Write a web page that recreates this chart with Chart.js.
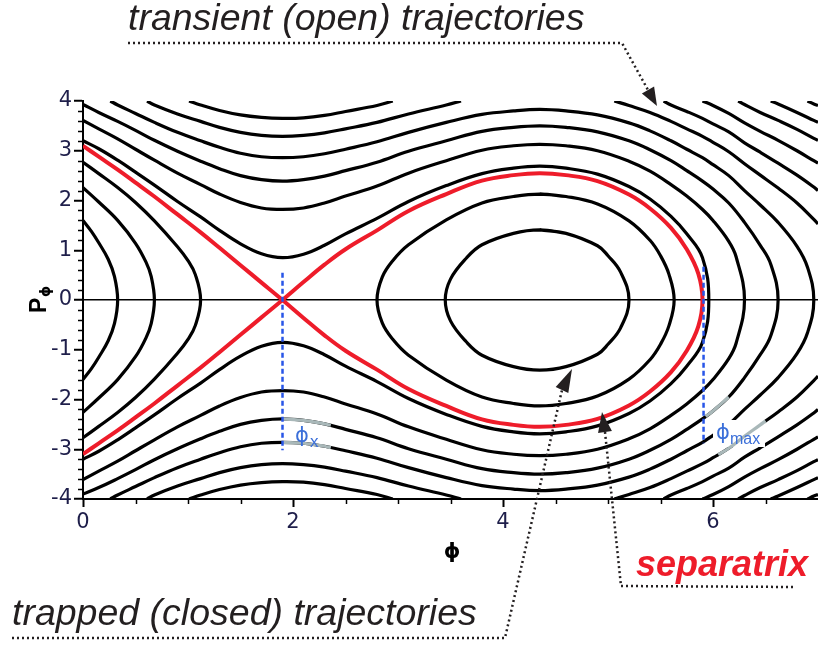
<!DOCTYPE html>
<html>
<head>
<meta charset="utf-8">
<title>Phase portrait</title>
<script src="https://cdn.jsdelivr.net/npm/chart.js@4.4.0/dist/chart.umd.min.js"></script>
<style>
  html, body { margin: 0; padding: 0; background: #fff; }
  canvas { display: block; }
</style>
</head>
<body>
<canvas id="phaseChart" width="818" height="646"></canvas>
<script>
// level curves of the phase plane, as [phi, P] pairs

const separatrix = [
  [0, 3.1], [0.15, 2.88], [0.33, 2.62], [0.5, 2.36], [0.68, 2.08], [0.9, 1.72], [1.12, 1.36], [1.3, 1.05], [1.5, 0.7], [1.7, 0.35], [1.9, 0],
  [2.1, -0.36], [2.3, -0.71], [2.5, -1.02], [2.8, -1.4], [3.1, -1.79], [3.46, -2.13], [3.8, -2.4], [4.1, -2.51], [4.35, -2.55], [4.6, -2.51], [4.9, -2.39], [5.2, -2.12], [5.4, -1.84], [5.6, -1.45], [5.75, -1.02], [5.86, -0.53], [5.9, 0],
  [5.86, 0.53], [5.75, 1.02], [5.6, 1.45], [5.4, 1.84], [5.2, 2.12], [4.9, 2.39], [4.6, 2.51], [4.35, 2.55], [4.1, 2.51], [3.8, 2.4], [3.46, 2.13], [3.1, 1.79], [2.8, 1.4], [2.5, 1.02], [2.3, 0.71], [2.1, 0.36], [1.9, 0],
  [1.7, -0.35], [1.5, -0.7], [1.3, -1.05], [1.12, -1.36], [0.9, -1.72], [0.68, -2.08], [0.5, -2.36], [0.33, -2.62], [0.15, -2.88], [0, -3.1]
];

// closed orbits inside the well
const trappedInner = [
  [4.35, 1.41], [4.6, 1.34], [4.9, 1.09], [5.0, 0.89], [5.12, 0.56], [5.2, 0], [5.12, -0.56], [5.0, -0.89], [4.9, -1.09], [4.6, -1.34], [4.35, -1.41],
  [4.1, -1.34], [3.8, -1.11], [3.65, -0.84], [3.5, -0.42], [3.45, 0], [3.5, 0.42], [3.65, 0.84], [3.8, 1.11], [4.1, 1.34], [4.35, 1.41], [4.6, 1.34]
];
const trappedOuter = [
  [4.35, 2.13], [4.6, 2.08], [4.9, 1.93], [5.2, 1.59], [5.4, 1.2], [5.5, 0.89], [5.58, 0.52], [5.63, 0], [5.58, -0.52], [5.5, -0.89], [5.4, -1.2], [5.2, -1.59], [4.9, -1.93], [4.6, -2.08], [4.35, -2.13],
  [4.1, -2.08], [3.8, -1.95], [3.46, -1.61], [3.1, -1.11], [2.95, -0.79], [2.85, -0.46], [2.8, 0], [2.85, 0.46], [2.95, 0.79], [3.1, 1.11], [3.46, 1.61], [3.8, 1.95], [4.1, 2.08], [4.35, 2.13], [4.6, 2.08]
];

// orbits turned back by the barrier at phi_x
const leftInner = [[0, 1.6], [0.08, 1.38], [0.15, 1.15], [0.24, 0.82], [0.3, 0.47], [0.33, 0], [0.3, -0.47], [0.24, -0.82], [0.15, -1.15], [0.08, -1.38], [0, -1.6]];
const leftMiddle = [[0, 2.26], [0.15, 1.97], [0.33, 1.6], [0.5, 1.14], [0.6, 0.76], [0.65, 0.47], [0.68, 0], [0.65, -0.47], [0.6, -0.76], [0.5, -1.14], [0.33, -1.6], [0.15, -1.97], [0, -2.26]];
const leftOuter = [[0, 2.77], [0.15, 2.54], [0.33, 2.26], [0.5, 1.96], [0.68, 1.59], [0.9, 1.07], [1.0, 0.79], [1.07, 0.51], [1.12, 0], [1.07, -0.51], [1.0, -0.79], [0.9, -1.07], [0.68, -1.59], [0.5, -1.96], [0.33, -2.26], [0.15, -2.54], [0, -2.77]];

// open orbits passing over the barrier
const openE1 = [
  [0, 3.2], [0.15, 3.04], [0.33, 2.81], [0.5, 2.57], [0.68, 2.31], [0.9, 1.98], [1.12, 1.67], [1.3, 1.4], [1.5, 1.13], [1.7, 0.93], [1.9, 0.85], [2.1, 0.92], [2.3, 1.1], [2.5, 1.33], [2.8, 1.64], [3.1, 1.98], [3.46, 2.3], [3.8, 2.54], [4.1, 2.65], [4.35, 2.69], [4.6, 2.65], [4.9, 2.53], [5.2, 2.28], [5.4, 2.03], [5.6, 1.68], [5.75, 1.33], [5.9, 0.85], [5.96, 0],
  [5.9, -0.85], [5.75, -1.33], [5.6, -1.68], [5.4, -2.03], [5.2, -2.28], [4.9, -2.53], [4.6, -2.65], [4.35, -2.69], [4.1, -2.65], [3.8, -2.54], [3.46, -2.3], [3.1, -1.98], [2.8, -1.64], [2.5, -1.33], [2.3, -1.1], [2.1, -0.92], [1.9, -0.85], [1.7, -0.93], [1.5, -1.13], [1.3, -1.4], [1.12, -1.67], [0.9, -1.98], [0.68, -2.31], [0.5, -2.57], [0.33, -2.81], [0.15, -3.04], [0, -3.2]
];
const openA2 = [
  [0, 3.61], [0.15, 3.44], [0.33, 3.24], [0.5, 3.03], [0.68, 2.81], [0.9, 2.55], [1.12, 2.32], [1.3, 2.13], [1.5, 1.96], [1.7, 1.85], [1.9, 1.82], [2.1, 1.85], [2.3, 1.95], [2.5, 2.09], [2.8, 2.29], [3.1, 2.55], [3.46, 2.8], [3.8, 3.01], [4.1, 3.1], [4.35, 3.13], [4.6, 3.1], [4.9, 3.0], [5.2, 2.79], [5.4, 2.59], [5.6, 2.32], [5.75, 2.09], [5.9, 1.82], [6.0, 1.6], [6.15, 1.18], [6.22, 0.87], [6.3, 0],
  [6.22, -0.87], [6.15, -1.18], [6.0, -1.6], [5.9, -1.82], [5.75, -2.09], [5.6, -2.32], [5.4, -2.59], [5.2, -2.79], [4.9, -3.0], [4.6, -3.1], [4.35, -3.13], [4.1, -3.1], [3.8, -3.01], [3.46, -2.8], [3.1, -2.55], [2.8, -2.29], [2.5, -2.09], [2.3, -1.95], [2.1, -1.85], [1.9, -1.82], [1.7, -1.85], [1.5, -1.96], [1.3, -2.13], [1.12, -2.32], [0.9, -2.55], [0.68, -2.81], [0.5, -3.03], [0.33, -3.24], [0.15, -3.44], [0, -3.61]
];
const openA1 = [
  [0, 3.93], [0.15, 3.77], [0.33, 3.59], [0.5, 3.41], [0.68, 3.21], [0.9, 2.99], [1.12, 2.79], [1.3, 2.64], [1.5, 2.5], [1.7, 2.42], [1.9, 2.39], [2.1, 2.42], [2.3, 2.49], [2.5, 2.6], [2.8, 2.77], [3.1, 2.99], [3.46, 3.2], [3.8, 3.39], [4.1, 3.47], [4.35, 3.5], [4.6, 3.47], [4.9, 3.38], [5.2, 3.2], [5.4, 3.02], [5.6, 2.8], [5.75, 2.6], [5.9, 2.39], [6.0, 2.23], [6.15, 1.95], [6.3, 1.56], [6.45, 1.1], [6.55, 0.72], [6.62, 0],
  [6.55, -0.72], [6.45, -1.1], [6.3, -1.56], [6.15, -1.95], [6.0, -2.23], [5.9, -2.39], [5.75, -2.6], [5.6, -2.8], [5.4, -3.02], [5.2, -3.2], [4.9, -3.38], [4.6, -3.47], [4.35, -3.5], [4.1, -3.47], [3.8, -3.39], [3.46, -3.2], [3.1, -2.99], [2.8, -2.77], [2.5, -2.6], [2.3, -2.49], [2.1, -2.42], [1.9, -2.39], [1.7, -2.42], [1.5, -2.5], [1.3, -2.64], [1.12, -2.79], [0.9, -2.99], [0.68, -3.21], [0.5, -3.41], [0.33, -3.59], [0.15, -3.77], [0, -3.9]
];
const openT3 = [
  [0.26, 4], [0.33, 3.92], [0.5, 3.75], [0.68, 3.57], [0.9, 3.37], [1.12, 3.2], [1.3, 3.07], [1.5, 2.95], [1.7, 2.88], [1.9, 2.86], [2.1, 2.88], [2.3, 2.94], [2.5, 3.03], [2.8, 3.18], [3.1, 3.37], [3.46, 3.57], [3.8, 3.73], [4.1, 3.8], [4.35, 3.83], [4.6, 3.8], [4.9, 3.72], [5.2, 3.56], [5.4, 3.4], [5.6, 3.2], [5.75, 3.03], [5.9, 2.86], [6.0, 2.72], [6.15, 2.5], [6.3, 2.2], [6.45, 1.91], [6.62, 1.56], [6.8, 1.08], [6.9, 0.66], [6.96, 0],
  [6.9, -0.66], [6.8, -1.08], [6.62, -1.56], [6.45, -1.91], [6.3, -2.2], [6.15, -2.5], [6.0, -2.72], [5.9, -2.86], [5.75, -3.03], [5.6, -3.2], [5.4, -3.4], [5.2, -3.56], [4.9, -3.72], [4.6, -3.8], [4.35, -3.83], [4.1, -3.8], [3.8, -3.73], [3.46, -3.57], [3.1, -3.37], [2.8, -3.18], [2.5, -3.03], [2.3, -2.94], [2.1, -2.88], [1.9, -2.86], [1.7, -2.88], [1.5, -2.95], [1.3, -3.07], [1.12, -3.2], [0.9, -3.37], [0.68, -3.57], [0.5, -3.75], [0.33, -3.92], [0.26, -4]
];

// faster orbits that leave through the top and bottom of the window
const fastT2 = [
  [[0.61, 4], [0.68, 3.92], [0.9, 3.74], [1.12, 3.59], [1.3, 3.47], [1.5, 3.37], [1.7, 3.31], [1.9, 3.29], [2.1, 3.31], [2.3, 3.36], [2.5, 3.44], [2.8, 3.57], [3.1, 3.74], [3.46, 3.92], [3.6, 4]],
  [[0.61, -4], [0.68, -3.92], [0.9, -3.74], [1.12, -3.59], [1.3, -3.47], [1.5, -3.37], [1.7, -3.31], [1.9, -3.29], [2.1, -3.31], [2.3, -3.36], [2.5, -3.44], [2.8, -3.57], [3.1, -3.74], [3.46, -3.92], [3.6, -4]],
  [[5.06, 4], [5.2, 3.91], [5.4, 3.77], [5.6, 3.59], [5.75, 3.44], [5.9, 3.29], [6.0, 3.17], [6.15, 2.98], [6.3, 2.74], [6.45, 2.51], [6.62, 2.25], [6.8, 1.95], [6.96, 1.62], [7.0, 1.53]],
  [[5.06, -4], [5.2, -3.91], [5.4, -3.77], [5.6, -3.59], [5.75, -3.44], [5.9, -3.29], [6.0, -3.17], [6.15, -2.98], [6.3, -2.74], [6.45, -2.51], [6.62, -2.25], [6.8, -1.95], [6.96, -1.62], [7.0, -1.53]]
];
const fastT1 = [
  [[1.01, 4], [1.12, 3.92], [1.3, 3.81], [1.5, 3.72], [1.7, 3.67], [1.9, 3.65], [2.1, 3.66], [2.3, 3.71], [2.5, 3.79], [2.8, 3.91], [2.95, 4]],
  [[1.01, -4], [1.12, -3.92], [1.3, -3.81], [1.5, -3.72], [1.7, -3.67], [1.9, -3.65], [2.1, -3.66], [2.3, -3.71], [2.5, -3.79], [2.8, -3.91], [2.95, -4]],
  [[5.53, 4], [5.6, 3.92], [5.75, 3.79], [5.9, 3.65], [6.0, 3.54], [6.15, 3.38], [6.3, 3.16], [6.45, 2.97], [6.62, 2.75], [6.8, 2.51], [6.96, 2.27], [7.0, 2.2]],
  [[5.53, -4], [5.6, -3.92], [5.75, -3.79], [5.9, -3.65], [6.0, -3.54], [6.15, -3.38], [6.3, -3.16], [6.45, -2.97], [6.62, -2.75], [6.8, -2.51], [6.96, -2.27], [7.0, -2.2]]
];
const fastRight = [
  [[5.9, 4], [6.0, 3.91], [6.15, 3.75], [6.3, 3.56], [6.45, 3.39], [6.62, 3.21], [6.8, 3.0], [6.96, 2.8], [7.0, 2.75]],
  [[5.9, -4], [6.0, -3.91], [6.15, -3.75], [6.3, -3.56], [6.45, -3.39], [6.62, -3.21], [6.8, -3.0], [6.96, -2.8], [7.0, -2.75]],
  [[6.24, 4], [6.3, 3.93], [6.45, 3.77], [6.62, 3.61], [6.8, 3.43], [6.96, 3.25], [7.0, 3.21]],
  [[6.24, -4], [6.3, -3.93], [6.45, -3.77], [6.62, -3.61], [6.8, -3.43], [6.96, -3.25], [7.0, -3.21]],
  [[6.55, 4], [6.62, 3.94], [6.8, 3.77], [6.96, 3.61], [7.0, 3.57]],
  [[6.55, -4], [6.62, -3.94], [6.8, -3.77], [6.96, -3.61], [7.0, -3.57]],
  [[6.9, 4], [6.96, 3.94], [7.0, 3.91]],
  [[6.9, -4], [6.96, -3.94], [7.0, -3.91]]
];

// pieces of orbits picked out in grey next to phi_x and phi_max
const markedNearX = [
  [[1.9, -2.39], [2.1, -2.42], [2.3, -2.49], [2.36, -2.52]],
  [[1.9, -2.86], [2.1, -2.88], [2.3, -2.94], [2.36, -2.97]]
];
const markedNearMax = [
  [[5.93, -2.34], [6.0, -2.23], [6.15, -1.95]],
  [[6.05, -3.11], [6.15, -2.98], [6.3, -2.74], [6.45, -2.51], [6.5, -2.43]]
];

// turning points
const phiX = 1.9;
const phiMax = 5.91;
const phiXSpan = [0.55, -3.02];
const phiMaxSpan = [0.67, -2.88];

const xTicks = [0, 2, 4, 6];
const yTicks = [-4, -3, -2, -1, 0, 1, 2, 3, 4];

const BLACK = '#000000';
const RED = '#ee1c2a';
const BLUE = '#2856e8';
const GREY = '#a9b8b9';
const INK = '#231f20';

Chart.defaults.font.family = "'DejaVu Sans', Verdana, sans-serif";
Chart.defaults.font.size = 21;

const toXY = pts => pts.map(([x, y]) => ({ x, y }));

function curve(pts, color, width, order, extra) {
  return Object.assign({
    data: toXY(pts),
    showLine: true,
    borderColor: color,
    borderWidth: width,
    pointRadius: 0,
    tension: 0.4,
    fill: false,
    order: order
  }, extra || {});
}

const blackOrbits = [
  trappedInner, trappedOuter, leftInner, leftMiddle, leftOuter,
  openE1, openA2, openA1, openT3,
  ...fastT2, ...fastT1, ...fastRight
];

const greyPieces = [...markedNearX, ...markedNearMax];

const datasets = [
  curve([[phiX, phiXSpan[0]], [phiX, phiXSpan[1]]], BLUE, 2.5, 0, { tension: 0, borderDash: [5, 3] }),
  curve([[phiMax, phiMaxSpan[0]], [phiMax, phiMaxSpan[1]]], BLUE, 2.5, 0, { tension: 0, borderDash: [5, 3] }),
  curve(separatrix, RED, 4, 1),
  ...greyPieces.map(p => curve(p, GREY, 3.2, 2)),
  ...blackOrbits.map(p => curve(p, BLACK, 3.2, 3))
];
// datasets of equal order are painted from the highest index down,
// so this is the first grey piece to hit the canvas
const firstGreyDrawn = 3 + greyPieces.length - 1;

// clear a patch under the phi_max label once the black orbits are down
const labelPatch = {
  id: 'labelPatch',
  beforeDatasetDraw(chart, args) {
    if (args.index !== firstGreyDrawn) return;
    const { ctx } = chart;
    ctx.save();
    ctx.fillStyle = '#ffffff';
    ctx.fillRect(713, 420, 52, 27);
    ctx.restore();
  }
};

// short ticks between the labelled ones
const minorTicks = {
  id: 'minorTicks',
  afterDraw(chart) {
    const { ctx, chartArea, scales: { x, y } } = chart;
    ctx.save();
    ctx.strokeStyle = BLACK;
    ctx.lineWidth = 1.5;
    ctx.beginPath();
    for (let i = -20; i <= 20; i++) {
      if (i % 5 === 0) continue;
      const py = Math.round(y.getPixelForValue(i / 5)) + 0.5;
      ctx.moveTo(chartArea.left - 5, py);
      ctx.lineTo(chartArea.left, py);
    }
    for (let i = 1; i < 14; i++) {
      if (i % 4 === 0) continue;
      const px = Math.round(x.getPixelForValue(i / 2)) + 0.5;
      ctx.moveTo(px, chartArea.bottom);
      ctx.lineTo(px, chartArea.bottom + 5);
    }
    ctx.stroke();
    ctx.restore();
  }
};

function leader(ctx, pts, tip) {
  ctx.setLineDash([2, 3]);
  ctx.lineWidth = 2.5;
  ctx.beginPath();
  ctx.moveTo(pts[0][0], pts[0][1]);
  for (let i = 1; i < pts.length; i++) ctx.lineTo(pts[i][0], pts[i][1]);
  ctx.stroke();
  ctx.setLineDash([]);
  const [bx, by] = pts[pts.length - 1];
  const dx = tip[0] - bx, dy = tip[1] - by;
  const len = Math.hypot(dx, dy);
  const ux = dx / len, uy = dy / len;
  const w = 7;
  ctx.beginPath();
  ctx.moveTo(tip[0], tip[1]);
  ctx.lineTo(bx + uy * w, by - ux * w);
  ctx.lineTo(bx - uy * w, by + ux * w);
  ctx.closePath();
  ctx.fill();
}

// axis titles, turning point labels and call-outs
const notes = {
  id: 'notes',
  afterDraw(chart) {
    const { ctx } = chart;
    const sans = '"Liberation Sans", Arial, sans-serif';
    const greek = '"DejaVu Sans", sans-serif';
    ctx.save();
    ctx.textBaseline = 'alphabetic';

    ctx.fillStyle = BLACK;
    ctx.font = 'bold 21px ' + greek;
    ctx.textAlign = 'center';
    ctx.fillText('ϕ', 452, 558);

    ctx.save();
    ctx.translate(46, 313);
    ctx.rotate(-Math.PI / 2);
    ctx.textAlign = 'left';
    ctx.font = 'bold 23px ' + sans;
    ctx.fillText('P', 0, 0);
    ctx.font = 'bold 14px ' + greek;
    ctx.fillText('ϕ', 16, 4);
    ctx.restore();

    ctx.fillStyle = '#3b6fd9';
    ctx.textAlign = 'left';
    ctx.font = '21px ' + greek;
    ctx.fillText('ϕ', 295, 442);
    ctx.fillText('ϕ', 716, 439);
    ctx.font = '17px ' + sans;
    ctx.fillText('x', 310, 447);
    ctx.font = '16px ' + sans;
    ctx.fillText('max', 730, 444);

    ctx.fillStyle = INK;
    ctx.strokeStyle = INK;
    ctx.font = 'italic 37.5px ' + sans;
    ctx.fillText('transient (open) trajectories', 128, 30);
    ctx.fillText('trapped (closed) trajectories', 12, 625);
    leader(ctx, [[128, 43], [622, 43], [648, 90]], [657, 106]);
    leader(ctx, [[12, 638], [505, 638], [562, 390]], [572, 369]);
    leader(ctx, [[793, 587], [621, 586], [605, 432]], [602, 412]);

    ctx.fillStyle = RED;
    ctx.font = 'italic bold 36px ' + sans;
    ctx.fillText('separatrix', 636, 576);
    ctx.restore();
  }
};

const tickFont = { family: "'DejaVu Sans', Verdana, sans-serif", size: 21, weight: 'normal' };

new Chart(document.getElementById('phaseChart'), {
  type: 'scatter',
  data: { datasets },
  options: {
    responsive: false,
    animation: false,
    events: [],
    layout: { padding: { top: 101, right: 0, bottom: 0, left: 0 } },
    plugins: {
      legend: { display: false },
      tooltip: { enabled: false }
    },
    scales: {
      x: {
        type: 'linear',
        min: 0,
        max: 7,
        afterBuildTicks: scale => { scale.ticks = xTicks.map(v => ({ value: v })); },
        afterFit: scale => { scale.height = 147; },
        grid: { drawOnChartArea: false, tickLength: 8, tickColor: BLACK, tickWidth: 2 },
        border: { color: BLACK, width: 2 },
        ticks: { font: tickFont, color: '#1e1e4a', padding: 3, maxRotation: 0 }
      },
      y: {
        type: 'linear',
        min: -4,
        max: 4,
        afterBuildTicks: scale => { scale.ticks = yTicks.map(v => ({ value: v })); },
        afterFit: scale => { scale.width = 83; },
        grid: {
          color: c => (c.tick && c.tick.value === 0 ? BLACK : 'rgba(0,0,0,0)'),
          lineWidth: 1.5,
          tickLength: 9,
          tickColor: BLACK,
          tickWidth: 2
        },
        border: { color: BLACK, width: 2 },
        ticks: { font: tickFont, color: '#1e1e4a', padding: 2 }
      }
    }
  },
  plugins: [labelPatch, minorTicks, notes]
});
</script>
</body>
</html>
